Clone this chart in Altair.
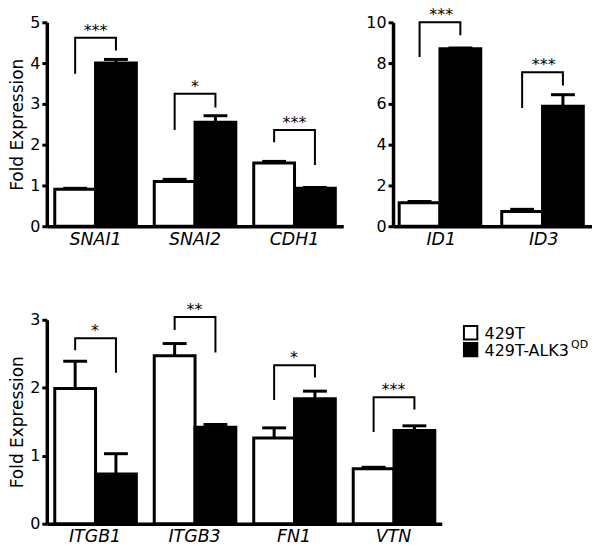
import altair as alt
import pandas as pd

GROUPS = ["429T", "429T-ALK3"]

# Panel A (top-left)
genes_a = ["SNAI1", "SNAI2", "CDH1"]
a_white = [0.91, 1.10, 1.55]
a_white_err = [0.93, 1.15, 1.59]
a_black = [4.00, 2.55, 0.93]
a_black_err = [4.09, 2.71, 0.95]
a_br_left = [3.74, 2.36, 2.06]
a_br_top = [4.62, 3.25, 2.36]
a_br_right = [4.31, 2.91, 1.50]
a_stars = ["***", "*", "***"]

# Panel B (top-right)
genes_b = ["ID1", "ID3"]
b_white = [1.15, 0.72]
b_white_err = [1.22, 0.83]
b_black = [8.70, 5.88]
b_black_err = [8.74, 6.45]
b_br_left = [8.3, 5.8]
b_br_top = [10.0, 7.55]
b_br_right = [9.37, 6.9]
b_stars = ["***", "***"]

# Panel C (bottom)
genes_c = ["ITGB1", "ITGB3", "FN1", "VTN"]
c_white = [1.99, 2.47, 1.26, 0.81]
c_white_err = [2.39, 2.65, 1.41, 0.83]
c_black = [0.73, 1.42, 1.84, 1.37]
c_black_err = [1.03, 1.46, 1.95, 1.44]
c_br_left = [2.55, 2.85, 1.82, 1.35]
c_br_top = [2.73, 3.04, 2.33, 1.86]
c_br_right = [2.22, 2.52, 2.15, 1.68]
c_stars = ["*", "**", "*", "***"]

legend_labels = ["429T", "429T-ALK3"]
legend_sup = ["", "QD"]
legend_fill = ["white", "black"]

H = 205


def panel(genes, w, we, b, be, bl, bt, br, stars, ymax, ystep, show_title,
          pad_inner, pad_outer):
    n = len(genes)
    bars = pd.DataFrame({
        "gene": genes * 2,
        "grp": [GROUPS[0]] * n + [GROUPS[1]] * n,
        "val": w + b,
        "err": we + be,
    })
    rows = []
    for i, g in enumerate(genes):
        rows += [
            {"gene": g, "grp": GROUPS[0], "y": bl[i], "k": 0},
            {"gene": g, "grp": GROUPS[0], "y": bt[i], "k": 1},
            {"gene": g, "grp": GROUPS[1], "y": bt[i], "k": 2},
            {"gene": g, "grp": GROUPS[1], "y": br[i], "k": 3},
        ]
    brk = pd.DataFrame(rows)
    st = pd.DataFrame({"gene": genes, "top": bt, "stars": stars})

    x = alt.X("gene:N", sort=genes,
              scale=alt.Scale(paddingInner=pad_inner, paddingOuter=pad_outer),
              axis=alt.Axis(title=None, labelAngle=0, ticks=False,
                            labelFontStyle="italic", labelFontSize=17.5,
                            labelPadding=4, domainWidth=3.5,
                            domainColor="black", labelColor="black"))
    xo = alt.XOffset("grp:N", sort=GROUPS)
    yscale = alt.Scale(domain=[0, ymax], nice=False)
    yaxis = alt.Axis(
        title="Fold Expression" if show_title else None,
        values=list(range(0, ymax + 1, ystep)),
        grid=False, domainWidth=3.5, domainColor="black",
        tickWidth=3, tickSize=5, tickColor="black",
        labelFontSize=16, labelColor="black", labelPadding=2,
        titleFontSize=17, titleFontWeight="normal", titleColor="black",
        titlePadding=3,
    )

    bar = alt.Chart(bars).mark_bar(stroke="black", strokeWidth=3).encode(
        x=x, xOffset=xo,
        y=alt.Y("val:Q", scale=yscale, axis=yaxis),
        fill=alt.Fill("grp:N", scale=alt.Scale(domain=GROUPS, range=["white", "black"]),
                      legend=None),
    )
    rule = alt.Chart(bars).mark_rule(strokeWidth=3, color="black").encode(
        x=x, xOffset=xo,
        y=alt.Y("val:Q", scale=yscale, axis=yaxis),
        y2="err:Q",
    )
    cap = alt.Chart(bars).mark_tick(color="black", thickness=3, size=24, opacity=1).encode(
        x=x, xOffset=xo,
        y=alt.Y("err:Q", scale=yscale, axis=yaxis),
    )
    bracket = alt.Chart(brk).mark_line(color="black", strokeWidth=2).encode(
        x=x, xOffset=xo,
        y=alt.Y("y:Q", scale=yscale, axis=yaxis),
        detail="gene:N",
        order="k:Q",
    )
    txt = alt.Chart(st).mark_text(fontSize=16, baseline="alphabetic", dy=-2,
                                  color="black").encode(
        x=x,
        y=alt.Y("top:Q", scale=yscale, axis=yaxis),
        text="stars:N",
    )
    return [bar, rule, cap, bracket, txt]


A = alt.layer(*panel(genes_a, a_white, a_white_err, a_black, a_black_err,
                     a_br_left, a_br_top, a_br_right, a_stars, 5, 1, True,
                     0.18, 0.08)).properties(width=298, height=H)
B = alt.layer(*panel(genes_b, b_white, b_white_err, b_black, b_black_err,
                     b_br_left, b_br_top, b_br_right, b_stars, 10, 2, False,
                     0.18, 0.06)).properties(width=200, height=H)
C = alt.layer(*panel(genes_c, c_white, c_white_err, c_black, c_black_err,
                     c_br_left, c_br_top, c_br_right, c_stars, 3, 1, True,
                     0.19, 0.08)).properties(width=397, height=H)

# legend panel
leg = pd.DataFrame({"label": legend_labels, "sup": legend_sup, "fill": legend_fill})
legend_layers = []
for i, yy in enumerate([13, 30]):
    d = leg.iloc[[i]]
    legend_layers.append(
        alt.Chart(d).mark_square(size=180, stroke="black", strokeWidth=2,
                                 opacity=1, fill=legend_fill[i]).encode(
            x=alt.value(7), y=alt.value(yy)))
    legend_layers.append(
        alt.Chart(d).mark_text(align="left", baseline="middle", fontSize=16, dy=1,
                               color="black").encode(
            x=alt.value(21), y=alt.value(yy), text="label:N"))
    legend_layers.append(
        alt.Chart(d).mark_text(align="left", baseline="middle", fontSize=11, dy=-5,
                               color="black").encode(
            x=alt.value(108), y=alt.value(yy), text="sup:N"))
L = alt.layer(*legend_layers).properties(width=125, height=H)

top = alt.hconcat(A, B, spacing=50, bounds="flush")
bottom = alt.hconcat(C, L, spacing=22, bounds="flush")
chart = alt.vconcat(top, bottom, spacing=54).properties(
    padding={"left": 0, "top": -2, "right": 0, "bottom": -2}
).configure(font="DejaVu Sans").configure_view(strokeWidth=0)

chart.save("out.html", embed_options={"renderer": "svg", "actions": False})
